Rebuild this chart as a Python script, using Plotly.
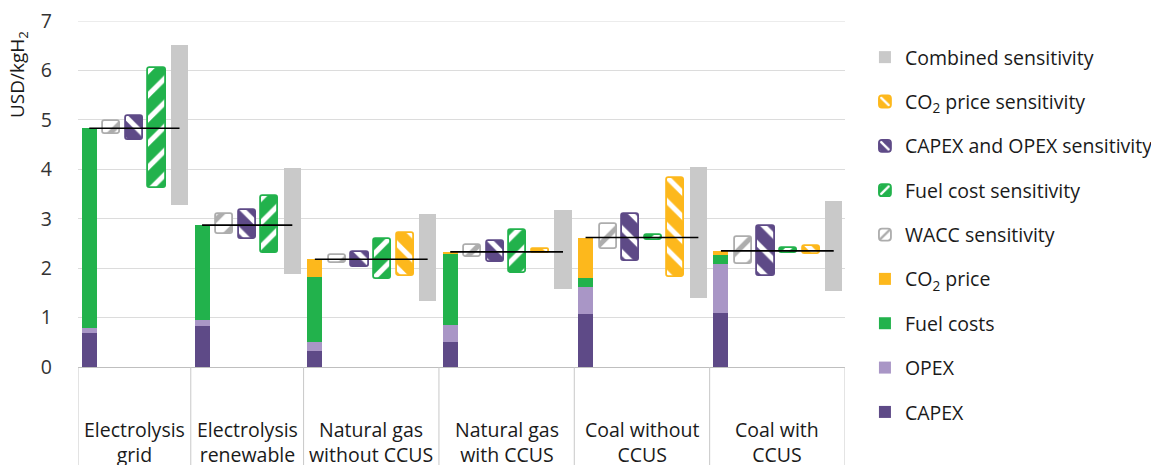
import plotly.graph_objects as go

categories = ["Electrolysis<br>grid", "Electrolysis<br>renewable", "Natural gas<br>without CCUS",
              "Natural gas<br>with CCUS", "Coal without<br>CCUS", "Coal with<br>CCUS"]

# Levelised cost components (USD/kgH2)
capex = [0.69, 0.82, 0.33, 0.51, 1.07, 1.10]
opex = [0.10, 0.13, 0.18, 0.33, 0.55, 0.98]
fuel_costs = [4.04, 1.92, 1.32, 1.45, 0.19, 0.19]
co2_price = [0.00, 0.00, 0.35, 0.04, 0.81, 0.08]

# Sensitivity ranges (low, high)
wacc_low = [4.72, 2.69, 2.11, 2.22, 2.38, 2.09]
wacc_high = [4.97, 3.10, 2.26, 2.46, 2.90, 2.63]
capex_sens_low = [4.59, 2.59, 2.03, 2.13, 2.15, 1.85]
capex_sens_high = [5.07, 3.18, 2.33, 2.54, 3.10, 2.86]
fuel_sens_low = [3.62, 2.31, 1.79, 1.90, 2.57, 2.30]
fuel_sens_high = [6.05, 3.47, 2.58, 2.77, 2.68, 2.40]
co2_sens_low = [None, None, 1.84, 2.30, 1.83, 2.29]
co2_sens_high = [None, None, 2.71, 2.39, 3.82, 2.45]
combined_low = [3.28, 1.88, 1.34, 1.57, 1.39, 1.54]
combined_high = [6.51, 4.03, 3.10, 3.18, 4.05, 3.36]
y_ticks = [0, 1, 2, 3, 4, 5, 6, 7]

C_CAPEX = "#5E4A87"
C_OPEX = "#A996C6"
C_FUEL = "#22B24C"
C_CO2 = "#FDB81C"
C_COMB = "#C9C9C9"
C_WACC = "#ADADAD"
C_GRID = "#DCDCDC"
TXT = "#1a1a1a"

# slot layout
slots = {}
bounds = [-0.5]
pos = 0
for i in range(len(categories)):
    names = ["stack", "wacc", "capex", "fuel"] + (["co2"] if co2_sens_low[i] is not None else []) + ["combined"]
    slots[i] = {}
    for n in names:
        slots[i][n] = pos
        pos += 1
    bounds.append(pos - 0.5)
n_cat = len(categories)

fig = go.Figure()
FONT = "Open Sans"
FS = 19.5

def xs(key):
    return [slots[i][key] for i in range(n_cat) if key in slots[i]]

# stacked components with explicit bases
base = [0.0] * n_cat
stack_series = [("CAPEX", capex, C_CAPEX, 9), ("OPEX", opex, C_OPEX, 8),
                ("Fuel costs", fuel_costs, C_FUEL, 7), ("CO<sub>2</sub> price", co2_price, C_CO2, 6)]
for name, vals, col, rank in stack_series:
    x, y, b = [], [], []
    for i in range(n_cat):
        if vals[i] > 0:
            x.append(slots[i]["stack"]); y.append(vals[i]); b.append(base[i])
        base[i] += vals[i]
    fig.add_trace(go.Bar(x=x, y=y, base=b, name=name, width=0.67,
                         marker=dict(color=col, line=dict(width=0)),
                         legendrank=rank, legendgroup=name))
totals = base[:]

def sens_trace(name, key, lo, hi, col, fg, shape, rank, bg=None):
    x, y, b = [], [], []
    for i in range(n_cat):
        if lo[i] is None:
            continue
        x.append(slots[i][key]); b.append(lo[i]); y.append(hi[i] - lo[i])
    fig.add_trace(go.Bar(x=x, y=y, base=b, name=name, width=0.76,
                         marker=dict(color=bg or col, cornerradius=3,
                                     line=dict(color=col, width=1.8),
                                     pattern=dict(shape=shape, fgcolor=fg, bgcolor=bg or col,
                                                  fillmode="replace", size=17, solidity=0.3)),
                         legendrank=rank, legendgroup=name))

sens_trace("WACC sensitivity", "wacc", wacc_low, wacc_high, C_WACC, C_WACC, "/", 5, bg="white")
sens_trace("Fuel cost sensitivity", "fuel", fuel_sens_low, fuel_sens_high, C_FUEL, "white", "/", 4)
sens_trace("CAPEX and OPEX sensitivity", "capex", capex_sens_low, capex_sens_high, C_CAPEX, "white", "\\", 3)
sens_trace("CO<sub>2</sub> price sensitivity", "co2", co2_sens_low, co2_sens_high, C_CO2, "white", "\\", 2)

fig.add_trace(go.Bar(x=xs("combined"), y=[combined_high[i] - combined_low[i] for i in range(n_cat)],
                     base=combined_low, name="Combined sensitivity", width=0.77,
                     marker=dict(color=C_COMB, line=dict(width=0)),
                     legendrank=1, legendgroup="Combined sensitivity"))

# reference line at total cost
lx, ly = [], []
for i in range(n_cat):
    lx += [slots[i]["stack"], slots[i]["combined"], None]
    ly += [totals[i], totals[i], None]
fig.add_trace(go.Scatter(x=lx, y=ly, mode="lines", line=dict(color="black", width=1.6),
                         showlegend=False, hoverinfo="skip"))

# top gridline (at the edge of the plot area)
fig.add_shape(type="line", xref="paper", yref="y", x0=0, x1=1, y0=y_ticks[-1], y1=y_ticks[-1],
              line=dict(color=C_GRID, width=1), layer="below")

# category dividers and labels
plot_h = 346
for bx in bounds:
    fig.add_shape(type="line", xref="x", yref="paper", x0=bx, x1=bx, y0=0, y1=-100 / plot_h,
                  line=dict(color="#C8C8C8", width=1))
for i in range(n_cat):
    keys = list(slots[i].values())
    cx = (min(keys) + max(keys)) / 2
    fig.add_annotation(x=cx, xref="x", y=-47 / plot_h, yref="paper", yanchor="top",
                       text=categories[i], showarrow=False,
                       font=dict(family=FONT, size=FS, color=TXT))

# y-axis title placed near the top of the axis, as in the original
fig.add_annotation(x=-60 / 767, xref="paper", y=292 / plot_h, yref="paper",
                   xanchor="center", yanchor="middle", textangle=-90, showarrow=False,
                   text="USD/kgH<sub>2</sub>", font=dict(family=FONT, size=19, color=TXT))

# page body has an 8px margin, so the figure is sized 8px smaller
fig.update_layout(
    width=1151, height=457,
    margin=dict(l=70, r=314, t=13, b=98, autoexpand=False),
    paper_bgcolor="white", plot_bgcolor="white",
    barmode="overlay", bargap=0,
    font=dict(family=FONT, size=FS, color=TXT),
    showlegend=True,
    legend=dict(x=1.026, xanchor="left", y=0.951, yanchor="top", traceorder="grouped",
                tracegroupgap=16, font=dict(family=FONT, size=FS, color=TXT),
                itemwidth=30, maxheight=460),
)
fig.update_xaxes(range=[-0.5, pos - 0.5], showticklabels=False, showgrid=False, zeroline=False,
                 showline=True, linecolor="#BFBFBF", linewidth=1, ticks="")
fig.update_yaxes(range=[0, 7.001], tickvals=y_ticks, showgrid=True,
                 gridcolor=C_GRID, gridwidth=1, ticklabeloverflow="allow",
                 zeroline=False, showline=False, ticks="", ticklabelstandoff=25,
                 tickfont=dict(size=FS, color="#333333"))

fig.write_html("out.html")
